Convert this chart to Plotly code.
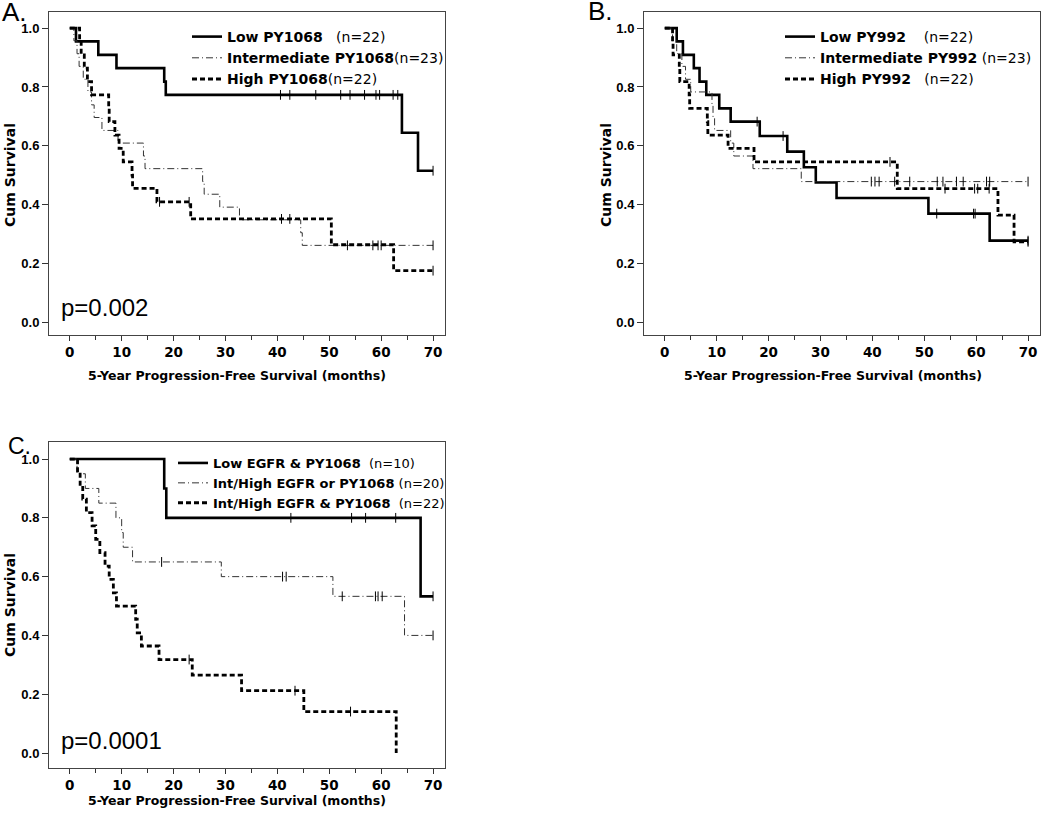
import plotly.graph_objects as go

# ---- data (months, survival) ----
# A. PY1068
a_low_t = [1.2, 5.5, 9.0, 18.2, 18.5, 64.0, 67.1]
a_low_s = [0.955, 0.909, 0.864, 0.818, 0.773, 0.644, 0.515]
a_low_cens = [40.6, 42.4, 47.4, 52.2, 54.0, 56.8, 59.0, 59.7, 62.3, 63.2, 70.0]

a_int_t = [0.8, 1.4, 1.8, 2.6, 3.5, 4.2, 4.7, 6.2, 9.3, 14.2, 14.5, 25.6, 25.9, 28.9, 32.7, 44.5, 44.8]
a_int_s = [0.957, 0.913, 0.870, 0.826, 0.783, 0.739, 0.696, 0.652, 0.609, 0.565, 0.522,
           0.478, 0.435, 0.391, 0.348, 0.304, 0.261]
a_int_cens = [53.5, 58.4, 59.4, 60.0, 70.0]

a_high_t = [1.9, 2.2, 2.8, 3.4, 4.2, 7.5, 7.6, 8.7, 9.5, 10.3, 12.0, 12.1, 16.8, 23.3, 50.4, 62.4]
a_high_s = [0.955, 0.909, 0.864, 0.818, 0.773, 0.727, 0.682, 0.636, 0.591, 0.545, 0.500,
            0.455, 0.409, 0.351, 0.263, 0.175]
a_high_cens = [17.3, 23.0, 40.8, 42.4, 70.0]

# B. PY992
b_low_t = [2.3, 3.5, 5.6, 6.7, 8.0, 10.5, 12.7, 18.3, 23.6, 26.8, 29.1, 33.1, 50.8, 62.6]
b_low_s = [0.955, 0.909, 0.864, 0.818, 0.773, 0.727, 0.682, 0.633, 0.580, 0.527, 0.475,
           0.422, 0.369, 0.277]
b_low_cens = [17.8, 22.8, 52.4, 59.5, 59.8, 70.0]

b_int_t = [1.5, 2.3, 3.3, 4.0, 5.0, 9.1, 9.3, 9.6, 12.7, 13.3, 17.0, 26.3]
b_int_s = [0.957, 0.913, 0.870, 0.826, 0.783, 0.739, 0.696, 0.652, 0.609, 0.565, 0.522, 0.478]
b_int_cens = [39.8, 40.5, 41.3, 44.3, 47.2, 52.5, 53.6, 56.2, 57.5, 62.0, 62.6, 70.0]

b_high_t = [1.5, 1.6, 2.8, 2.9, 4.7, 4.8, 8.2, 8.3, 12.2, 17.2, 44.8, 64.2, 67.3]
b_high_s = [0.955, 0.909, 0.864, 0.818, 0.773, 0.727, 0.682, 0.636, 0.591, 0.545, 0.454,
            0.364, 0.273]
b_high_cens = [43.4, 54.0, 59.7, 60.3, 62.5, 70.0]

# C. EGFR & PY1068
c_low_t = [18.2, 18.6, 67.6]
c_low_s = [0.9, 0.8, 0.533]
c_low_cens = [42.6, 54.3, 57.0, 62.8, 70.0]

c_int_t = [1.4, 3.0, 5.6, 8.9, 10.0, 10.3, 12.1, 29.2, 50.7, 64.5]
c_int_s = [0.95, 0.90, 0.85, 0.80, 0.75, 0.70, 0.65, 0.60, 0.533, 0.40]
c_int_cens = [17.7, 41.0, 41.7, 52.5, 58.9, 59.4, 60.2, 70.0]

c_high_t = [1.5, 2.0, 2.5, 3.2, 4.3, 5.0, 5.8, 6.8, 7.6, 8.4, 9.0, 12.7, 13.0, 13.8, 17.2,
            23.6, 33.1, 45.1, 62.9]
c_high_s = [0.955, 0.909, 0.864, 0.818, 0.773, 0.727, 0.682, 0.636, 0.591, 0.545, 0.500,
            0.455, 0.409, 0.364, 0.318, 0.265, 0.212, 0.141, 0.0]
c_high_cens = [23.0, 43.4, 54.1]

x_ticks = [0, 10, 20, 30, 40, 50, 60, 70]
y_ticks = [0.0, 0.2, 0.4, 0.6, 0.8, 1.0]

sp = '\u00a0'
styles = {
    'low': dict(color='black', width=2.6, dash='solid'),
    'int': dict(color='#333333', width=1, dash='7px,3px,1px,3px'),
    'high': dict(color='black', width=2.8, dash='5px,3px'),
}


def surv_at(t, times, surv):
    s = 1.0
    for ti, si in zip(times, surv):
        if ti <= t:
            s = si
    return s


def add_curve(fig, times, surv, cens, name, style, n, legend):
    end = max(times + cens)
    fig.add_trace(go.Scatter(
        x=[0] + times + [end],
        y=[1.0] + surv + [surv[-1]],
        mode='lines',
        line=dict(shape='hv', **styles[style]),
        name=name,
        legend=legend,
        xaxis='x' + n, yaxis='y' + n,
    ))
    if cens:
        fig.add_trace(go.Scatter(
            x=cens,
            y=[surv_at(c, times, surv) for c in cens],
            mode='markers',
            marker=dict(symbol='line-ns', size=7, line=dict(width=1, color='black')),
            showlegend=False,
            xaxis='x' + n, yaxis='y' + n,
        ))


fig = go.Figure()

add_curve(fig, a_low_t, a_low_s, a_low_cens,
          '<b>Low PY1068</b>' + sp * 3 + '(n=22)', 'low', '', 'legend')
add_curve(fig, a_int_t, a_int_s, a_int_cens,
          '<b>Intermediate PY1068</b>(n=23)', 'int', '', 'legend')
add_curve(fig, a_high_t, a_high_s, a_high_cens,
          '<b>High PY1068</b>(n=22)', 'high', '', 'legend')

add_curve(fig, b_low_t, b_low_s, b_low_cens,
          '<b>Low PY992</b>' + sp * 4 + '(n=22)', 'low', '2', 'legend2')
add_curve(fig, b_int_t, b_int_s, b_int_cens,
          '<b>Intermediate PY992</b>' + sp + '(n=23)', 'int', '2', 'legend2')
add_curve(fig, b_high_t, b_high_s, b_high_cens,
          '<b>High PY992</b>' + sp * 3 + '(n=22)', 'high', '2', 'legend2')

add_curve(fig, c_low_t, c_low_s, c_low_cens,
          '<b>Low EGFR &amp; PY1068</b>' + sp * 2 + '(n=10)', 'low', '3', 'legend3')
add_curve(fig, c_int_t, c_int_s, c_int_cens,
          '<b>Int/High EGFR or PY1068</b>' + sp + '(n=20)', 'int', '3', 'legend3')
add_curve(fig, c_high_t, c_high_s, c_high_cens,
          '<b>Int/High EGFR &amp; PY1068</b>' + sp * 2 + '(n=22)', 'high', '3', 'legend3')


def xaxis(domain, anchor):
    return dict(
        domain=domain, anchor=anchor, range=[-4, 72.3], automargin=False,
        tickvals=x_ticks, ticks='outside', ticklen=5, tickcolor='#333',
        minor=dict(dtick=5, tick0=0, ticks='outside', ticklen=4, tickcolor='#333'),
        showline=True, mirror=True, linecolor='#444', linewidth=1,
        showgrid=False, zeroline=False,
        tickfont=dict(family='DejaVu Sans', size=13.5, weight='bold', color='black'),
    )


def yaxis(domain, anchor, rng):
    return dict(
        domain=domain, anchor=anchor, range=rng, automargin=False,
        tickvals=y_ticks, tickformat='.1f', ticks='outside', ticklen=6, tickcolor='#333',
        showline=True, mirror=True, linecolor='#444', linewidth=1,
        showgrid=False, zeroline=False,
        tickfont=dict(family='Liberation Sans', size=13, weight='bold', color='black'),
    )


W, H = 1050, 817
xa = [49 / W, 445 / W]
xb = [644 / W, 1040 / W]
ytop = [1 - 335 / H, 1 - 12 / H]
ybot = [1 - 768 / H, 1 - 442 / H]

legend_font = dict(family='DejaVu Sans', size=14, color='black')
fig.update_layout(
    width=W, height=H,
    margin=dict(l=0, r=0, t=0, b=0),
    paper_bgcolor='white', plot_bgcolor='white',
    xaxis=xaxis(xa, 'y'), yaxis=yaxis(ytop, 'x', [-0.044, 1.055]),
    xaxis2=xaxis(xb, 'y2'), yaxis2=yaxis(ytop, 'x2', [-0.044, 1.055]),
    xaxis3=xaxis(xa, 'y3'), yaxis3=yaxis(ybot, 'x3', [-0.051, 1.058]),
    legend=dict(x=187 / W, y=1 - 21 / H, xanchor='left', yanchor='top',
                bgcolor='rgba(0,0,0,0)', font=legend_font, itemwidth=30),
    legend2=dict(x=780 / W, y=1 - 21 / H, xanchor='left', yanchor='top',
                 bgcolor='rgba(0,0,0,0)', font=legend_font, itemwidth=30),
    legend3=dict(x=173 / W, y=1 - 448 / H, xanchor='left', yanchor='top',
                 bgcolor='rgba(0,0,0,0)', font=dict(family='DejaVu Sans', size=13, color='black'),
                 itemwidth=30, tracegroupgap=0),
    showlegend=True,
)

# axis titles as text placed under / beside each panel
xtitle = '<b>5-Year Progression-Free Survival (months)</b>'
xt_font = dict(family='DejaVu Sans', size=12.5, color='black')
for xc, yc in [(237, 376), (833, 376), (237, 800)]:
    fig.add_annotation(text=xtitle, x=xc / W, y=1 - yc / H, xref='paper', yref='paper',
                       xanchor='center', yanchor='middle', showarrow=False, font=xt_font)
yt_font = dict(family='DejaVu Sans', size=14, color='black')
for xc, yc in [(10, 175), (606, 175), (10, 605)]:
    fig.add_annotation(text='<b>Cum Survival</b>', x=xc / W, y=1 - yc / H,
                       xref='paper', yref='paper', textangle=-90,
                       xanchor='center', yanchor='middle', showarrow=False, font=yt_font)

p_font = dict(family='Liberation Sans', size=24, color='black')
fig.add_annotation(text='p=0.002', x=-2.0, y=0.048, xref='x', yref='y',
                   xanchor='left', yanchor='middle', showarrow=False, font=p_font)
fig.add_annotation(text='p=0.936', x=-4.4, y=0.024, xref='x2', yref='y2',
                   xanchor='left', yanchor='middle', showarrow=False, font=p_font)
fig.add_annotation(text='p=0.0001', x=-2.0, y=0.041, xref='x3', yref='y3',
                   xanchor='left', yanchor='middle', showarrow=False, font=p_font)

for lab, xl, yc, fs in [('A.', 0, 12, 26), ('B.', 586, 11, 26), ('C.', 6, 446, 23)]:
    fig.add_annotation(text=lab, x=xl / W, y=1 - yc / H, xref='paper', yref='paper',
                       xanchor='left', yanchor='middle', showarrow=False,
                       font=dict(family='Liberation Sans', size=fs, color='black'))

# the page's default body margin would offset the figure by 8px
fig.write_html('out.html', config={'displayModeBar': False},
               post_script="document.body.style.margin='0';")
